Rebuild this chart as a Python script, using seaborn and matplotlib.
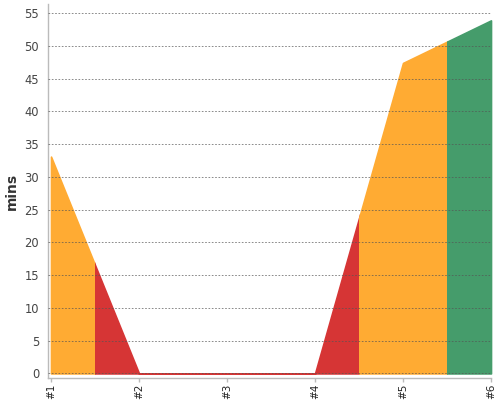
import matplotlib
matplotlib.use('Agg')
import matplotlib.pyplot as plt
from matplotlib.patches import Rectangle
import pandas as pd
import seaborn as sns

# data
labels = ['#1', '#2', '#3', '#4', '#5', '#6']
positions = [1, 2, 3, 4, 5, 6]
minutes = [33.1, 0, 0, 0, 47.4, 53.9]
status = ['orange', 'red', 'red', 'red', 'orange', 'green']

palette = {'orange': '#FFAB33', 'red': '#D63535', 'green': '#459C6B'}

df = pd.DataFrame({'pos': positions, 'mins': minutes, 'status': status})

sns.set_style('white')
plt.rcParams['font.family'] = ['DejaVu Sans']

fig = plt.figure(figsize=(5, 4), dpi=100)
ax = fig.add_axes([0.095, 0.055, 0.887, 0.935])

# invisible line so seaborn sets up the scales
sns.lineplot(data=df, x='pos', y='mins', ax=ax, lw=0)

# each point colours the area half a step on either side of it
for _, row in df.iterrows():
    poly = ax.fill_between(df['pos'], df['mins'], 0, color=palette[row['status']],
                           lw=1.2, zorder=1)
    clip = Rectangle((row['pos'] - 0.5, -1), 1, 100, transform=ax.transData)
    poly.set_clip_path(clip)

ax.set_xlim(0.96, 6.0)
ax.set_ylim(-0.7, 56.4)
ax.set_xticks(positions)
ax.set_xticklabels(labels, rotation=90, fontsize=7.5, color='#222')
ax.set_yticks(range(0, 56, 5))
ax.tick_params(axis='y', length=0, labelsize=8.3, labelcolor='#444', pad=6)
ax.tick_params(axis='x', length=3, width=1, color='#bbb', pad=1, bottom=True)
ax.set_xlabel('')
ax.set_ylabel('mins', fontsize=10, fontweight='bold', color='#333')
ax.yaxis.set_label_coords(-0.064, 0.5)

ax.grid(axis='y', color='#555', linestyle=(0, (2, 2)), linewidth=0.6, alpha=0.8)
ax.grid(axis='x', visible=False)
ax.set_axisbelow(False)

sns.despine(ax=ax, top=True, right=True)
for s in ['left', 'bottom']:
    ax.spines[s].set_color('#bbb')
    ax.spines[s].set_linewidth(1)

fig.savefig('out.png', dpi=100)
